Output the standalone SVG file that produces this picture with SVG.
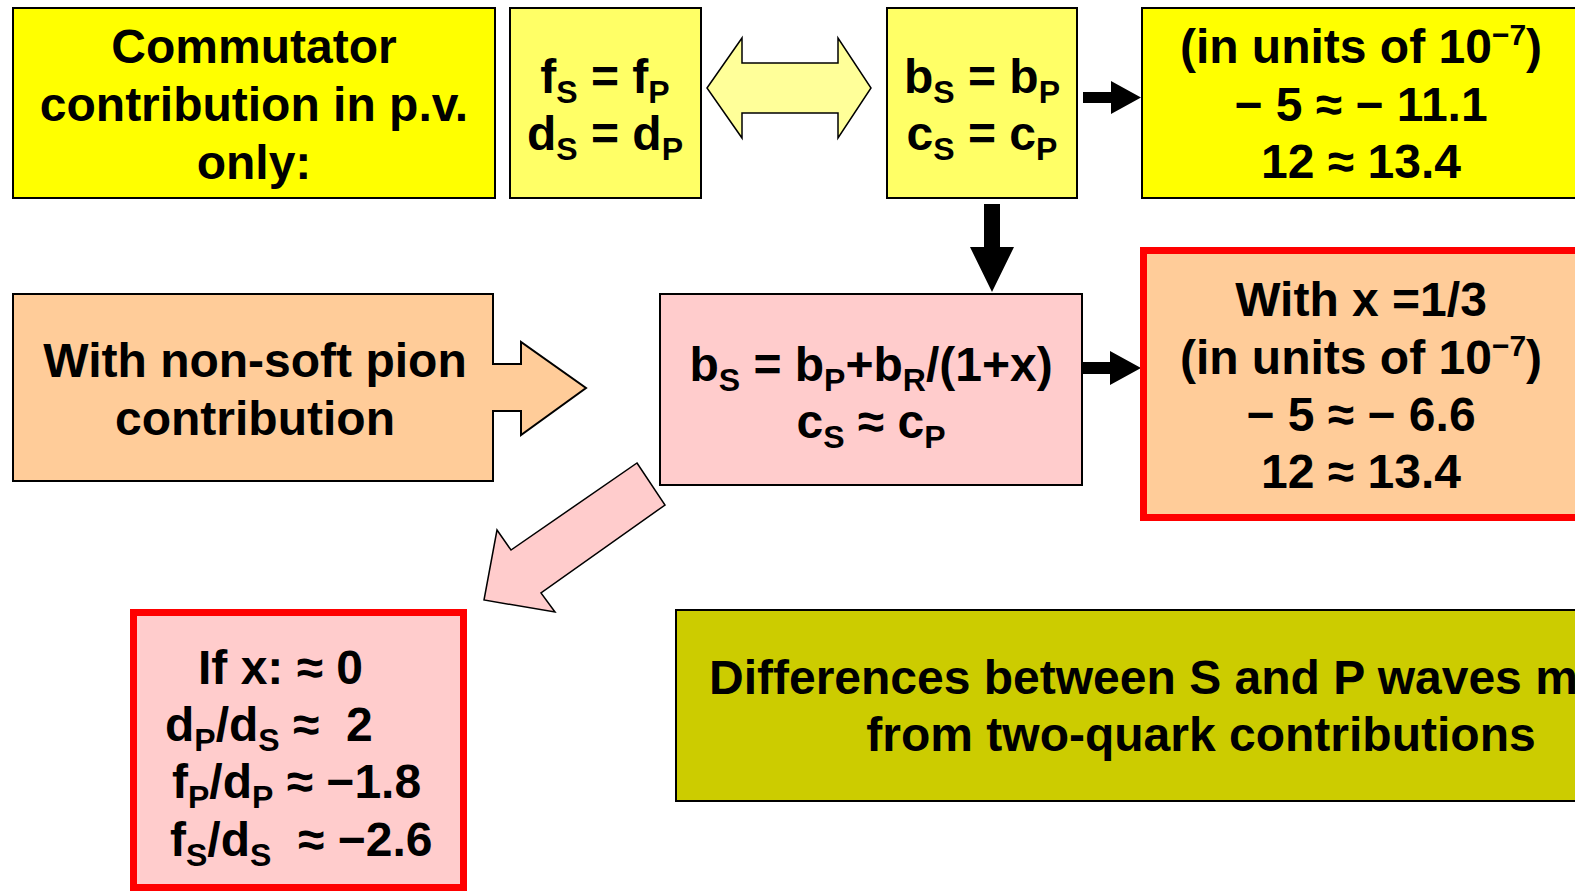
<svg xmlns="http://www.w3.org/2000/svg" width="1575" height="894" viewBox="0 0 1575 894">
<style>
.b{stroke:#000;stroke-width:2}
.r{stroke:#FF0000;stroke-width:7}
.t{font-family:"Liberation Sans",Arial,sans-serif;font-weight:bold;font-size:48px;fill:#000;text-anchor:middle;white-space:pre}
.l{text-anchor:start}
.s{font-size:32px}
.u{font-size:30px}
</style>
<rect width="1575" height="894" fill="#fff"/>
<g id="connectors">
<polygon points="707,88 742,38 742,63 838,63 838,38 871,88 838,138 838,113 742,113 742,138" fill="#FFFF99" stroke="#000" stroke-width="1.5"/>
<polygon points="1083,92 1111,92 1111,81 1141,97.5 1111,114 1111,103 1083,103" fill="#000"/>
<polygon points="984,204 1000,204 1000,247 1014,247 992,292 970,247 984,247" fill="#000"/>
<polygon points="1083,362 1110,362 1110,351 1141,368 1110,385 1110,374 1083,374" fill="#000"/>
<polygon points="637,463 665,505 541,593 555,612 484,600 497,530 511,550" fill="#FFCCCC" stroke="#000" stroke-width="1.5"/>
</g>
<g id="commutator">
<rect x="13" y="8" width="482" height="190" fill="#FFFF00" class="b"/>
<text class="t" x="254" y="63">Commutator</text>
<text class="t" x="254" y="121">contribution in p.v.</text>
<text class="t" x="254" y="179">only:</text>
</g>
<g id="fd">
<rect x="510" y="8" width="191" height="190" fill="#FFFF66" class="b"/>
<text class="t" x="605" y="93">f<tspan class="s" dy="10">S</tspan><tspan dy="-10"> = f</tspan><tspan class="s" dy="10">P</tspan></text>
<text class="t" x="605" y="150">d<tspan class="s" dy="10">S</tspan><tspan dy="-10"> = d</tspan><tspan class="s" dy="10">P</tspan></text>
</g>
<g id="bc">
<rect x="887" y="8" width="190" height="190" fill="#FFFF66" class="b"/>
<text class="t" x="982" y="93">b<tspan class="s" dy="10">S</tspan><tspan dy="-10"> = b</tspan><tspan class="s" dy="10">P</tspan></text>
<text class="t" x="982" y="150">c<tspan class="s" dy="10">S</tspan><tspan dy="-10"> = c</tspan><tspan class="s" dy="10">P</tspan></text>
</g>
<g id="units1">
<rect x="1142" y="8" width="450" height="190" fill="#FFFF00" class="b"/>
<text class="t" x="1361" y="63">(in units of 10<tspan class="u" dy="-18">−7</tspan><tspan dy="18">)</tspan></text>
<text class="t" x="1361" y="121">− 5 ≈ − 11.1</text>
<text class="t" x="1361" y="178">12 ≈ 13.4</text>
</g>
<g id="nonsoft">
<path d="M13,294 H493 V364 H521 V342 L586,388 L521,435 V411 H493 V481 H13 Z" fill="#FFCC99" class="b"/>
<text class="t" x="255" y="377">With non-soft pion</text>
<text class="t" x="255" y="435">contribution</text>
</g>
<g id="bsformula">
<rect x="660" y="294" width="422" height="191" fill="#FFCCCC" class="b"/>
<text class="t" x="871" y="381">b<tspan class="s" dy="10">S</tspan><tspan dy="-10"> = b</tspan><tspan class="s" dy="10">P</tspan><tspan dy="-10">+b</tspan><tspan class="s" dy="10">R</tspan><tspan dy="-10">/(1+x)</tspan></text>
<text class="t" x="871" y="438">c<tspan class="s" dy="10">S</tspan><tspan dy="-10"> ≈ c</tspan><tspan class="s" dy="10">P</tspan></text>
</g>
<g id="units2">
<rect x="1143.5" y="250.5" width="440" height="267" fill="#FFCC99" class="r"/>
<text class="t" x="1361" y="316">With x =1/3</text>
<text class="t" x="1361" y="374">(in units of 10<tspan class="u" dy="-18">−7</tspan><tspan dy="18">)</tspan></text>
<text class="t" x="1361" y="431">− 5 ≈ − 6.6</text>
<text class="t" x="1361" y="488">12 ≈ 13.4</text>
</g>
<g id="ifx">
<rect x="133.5" y="612.5" width="330" height="275" fill="#FFCCCC" class="r"/>
<text class="t l" x="198" y="684">If x: ≈ 0</text>
<text class="t l" x="165" y="741">d<tspan class="s" dy="10">P</tspan><tspan dy="-10">/d</tspan><tspan class="s" dy="10">S</tspan><tspan dy="-10"> ≈  2</tspan></text>
<text class="t l" x="172" y="798">f<tspan class="s" dy="10">P</tspan><tspan dy="-10">/d</tspan><tspan class="s" dy="10">P</tspan><tspan dy="-10"> ≈ −1.8</tspan></text>
<text class="t l" x="170" y="856">f<tspan class="s" dy="10">S</tspan><tspan dy="-10">/d</tspan><tspan class="s" dy="10">S</tspan><tspan dy="-10">  ≈ −2.6</tspan></text>
</g>
<g id="differences">
<rect x="676" y="610" width="920" height="191" fill="#CCCC00" class="b"/>
<text class="t l" x="709" y="694">Differences between S and P waves m</text>
<text class="t" x="1201" y="751">from two-quark contributions</text>
</g>
</svg>
